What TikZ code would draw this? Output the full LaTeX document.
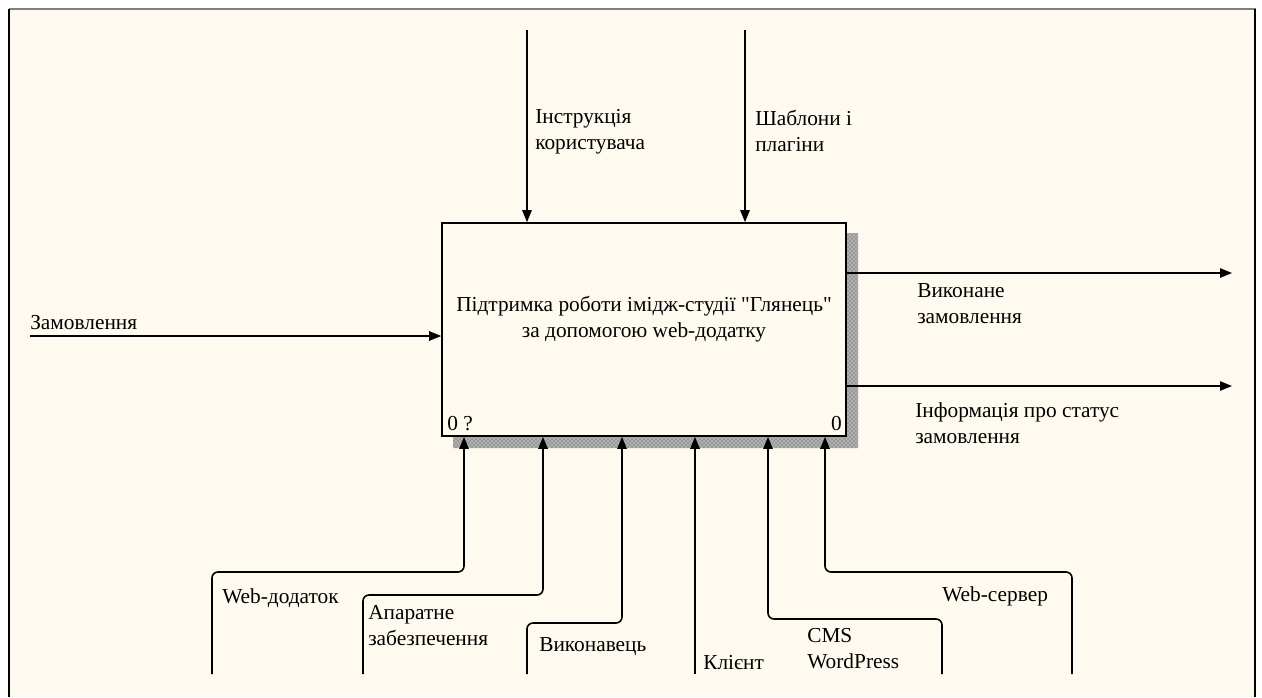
\documentclass[tikz,border=0pt]{standalone}
\usepackage{fontspec}
\setmainfont{Liberation Serif}[Ligatures=TeXOff]
\usetikzlibrary{arrows.meta,patterns}
\definecolor{paper}{HTML}{FFFAF0}
\definecolor{shadowgray}{HTML}{808080}
\begin{document}
\begin{tikzpicture}[x=0.75pt,y=-0.75pt,
  lbl/.style={inner sep=0pt,anchor=base west,align=left,font=\fontsize{16}{19}\selectfont},
  conn/.style={line width=1.2pt,-{Triangle[length=9pt,width=7pt]}},
  bentconn/.style={conn,rounded corners=4.5pt},
  mainbox/.style={draw,line width=1.2pt,fill=paper,minimum width=303pt,minimum height=159.75pt,inner sep=0pt}]
\useasboundingbox (0,0) rectangle (1262,697);
\fill[white] (0,0) rectangle (1262,697);
\fill[paper] (9,9) rectangle (1256,697);
\draw[shadowgray,line width=0.9pt] (9,9) -- (1256,9);
\draw[black,line width=1.6pt] (9,9) -- (9,697);
\draw[black,line width=1.6pt] (1255,9) -- (1255,697);
% shadow
\fill[black!40] (846,233) -- (858,233) -- (858,448) -- (453,448) -- (453,436) -- (846,436) -- cycle;
\fill[pattern=crosshatch dots,pattern color=white] (846,233) -- (858,233) -- (858,448) -- (453,448) -- (453,436) -- (846,436) -- cycle;
% main box
\node[mainbox] (box) at (644,329.5) {};
\node[inner sep=0pt,align=center,font=\fontsize{16}{19}\selectfont,anchor=base] (boxtext) at (644,337) {Підтримка роботи імідж-студії "Глянець"\\за допомогою web-додатку};
\node[lbl] (num1) at (447,430) {0 ?};
\node[lbl,anchor=base east] (num2) at (842,430) {0};
% coordinates
\coordinate (c1) at (527,30);
\coordinate (c2) at (745,30);
\coordinate (i1) at (30,336);
\coordinate (o1) at (1232,273);
\coordinate (o2) at (1232,386);
\coordinate (m1) at (212,674);
\coordinate (m2) at (363,674);
\coordinate (m3) at (527,674);
\coordinate (m4) at (695,674);
\coordinate (m5) at (942,674);
\coordinate (m6) at (1072,674);
\coordinate (e1) at (464,572);
\coordinate (e2) at (543,595);
\coordinate (e3) at (622,623);
\coordinate (e5) at (768,619);
\coordinate (e6) at (825,572);
% controls
\draw[conn] (c1) -- (c1 |- box.north);
\draw[conn] (c2) -- (c2 |- box.north);
% input
\draw[conn] (i1) -- (i1 -| box.west);
% outputs
\draw[conn] (o1 -| box.east) -- (o1);
\draw[conn] (o2 -| box.east) -- (o2);
% mechanisms
\draw[bentconn] (m1) |- (e1) -- (e1 |- box.south);
\draw[bentconn] (m2) |- (e2) -- (e2 |- box.south);
\draw[bentconn] (m3) |- (e3) -- (e3 |- box.south);
\draw[conn] (m4) -- (m4 |- box.south);
\draw[bentconn] (m5) |- (e5) -- (e5 |- box.south);
\draw[bentconn] (m6) |- (e6) -- (e6 |- box.south);
% labels (multi-line: anchor at last baseline)
\node[lbl] (lc1) at (535,149) {Інструкція\\користувача};
\node[lbl] (lc2) at (755,151) {Шаблони і\\плагіни};
\node[lbl] (li1) at (30,329) {Замовлення};
\node[lbl] (lo1) at (917,323) {Виконане\\замовлення};
\node[lbl] (lo2) at (915,443) {Інформація про статус\\замовлення};
\node[lbl] (lm1) at (222,603) {Web-додаток};
\node[lbl] (lm2) at (368,645) {Апаратне\\забезпечення};
\node[lbl] (lm3) at (539,651) {Виконавець};
\node[lbl] (lm4) at (703,669) {Клієнт};
\node[lbl] (lm5) at (807,668) {CMS\\WordPress};
\node[lbl] (lm6) at (942,601) {Web-сервер};
\end{tikzpicture}
\end{document}
